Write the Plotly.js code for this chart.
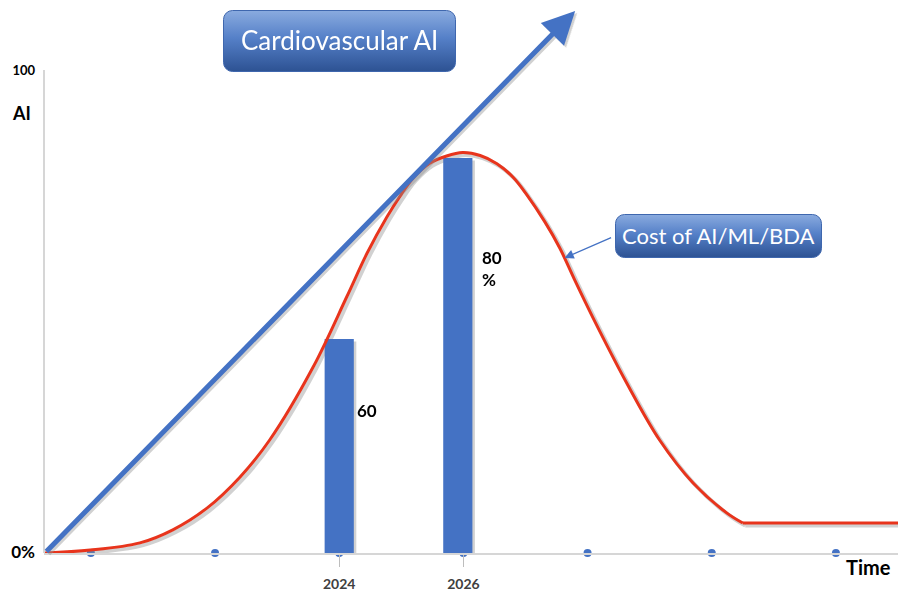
<!DOCTYPE html>
<html>
<head>
<meta charset="utf-8">
<script src="https://cdn.plot.ly/plotly-3.0.1.min.js"></script>
<style>
  html, body { margin: 0; padding: 0; background: #fff; }
  #chart { width: 906px; height: 598px; }
</style>
</head>
<body>
<div id="chart"></div>
<script>
// cost curve (year, value 0-100); flat after the last bend
var costYears = [2019.26, 2019.99, 2020.79, 2021.32, 2021.87, 2022.40, 2022.88, 2023.58, 2024.12,
  2024.45, 2024.77, 2024.98, 2025.19, 2025.46, 2025.73, 2025.99, 2026.27, 2026.54, 2026.80,
  2027.02, 2027.31, 2027.55, 2027.79, 2028.08, 2028.63, 2029.16, 2029.70, 2030.24, 2030.50, 2033.0];
var costValues = [0, 0.6, 2.1, 4.8, 9.3, 15.7, 23.4, 38.5, 53.0,
  62.1, 69.6, 73.9, 77.6, 80.7, 82.2, 82.9, 82.3, 80.6, 77.8,
  74.2, 68.6, 63.2, 56.6, 48.9, 35.2, 23.4, 14.5, 8.3, 6.2, 6.2];

var barYears = [2024, 2025.91];
var barValues = [44.3, 81.8];
var barLabels = ["60", "80<br>%"];

var dotYears = [2020, 2022, 2024, 2026, 2028, 2030, 2032];
var dotValues = [0, 0, 0, 0, 0, 0, 0];
var tickYears = [2024, 2026];
var tickLabels = ["2024", "2026"];

var trendFrom = [2019.26, 0];
var trendTo = [2027.80, 112.2];
var costPointer = [2027.63, 61.1];

var BLUE = "#4472C4";
var RED = "#E8341C";
var SHADOW = "rgba(140,140,140,0.4)";
var FONT = "Lato, 'Open Sans', sans-serif";
var XR = [2019.245, 2033.0];
var YR = [0, 112.42];

// plot area in pixels: x 44..898, y 10..553
function px(x) { return (x - 44) / 854; }
function py(y) { return (553 - y) / 543; }

function boxImage(w, h) {
  var svg = '<svg xmlns="http://www.w3.org/2000/svg" width="' + w + '" height="' + h + '" viewBox="0 0 ' + w + ' ' + h + '">' +
    '<defs><linearGradient id="g" x1="0" y1="0" x2="0" y2="1">' +
    '<stop offset="0" stop-color="#8AABDF"/><stop offset="0.45" stop-color="#5580C8"/>' +
    '<stop offset="1" stop-color="#2D5293"/></linearGradient></defs>' +
    '<rect x="0.5" y="0.5" width="' + (w - 1) + '" height="' + (h - 1) + '" rx="9" ry="9" fill="url(#g)" stroke="#3F67AE" stroke-width="1"/></svg>';
  return "data:image/svg+xml;charset=utf-8," + encodeURIComponent(svg);
}

var bend = costYears.length - 2;
var curveX = costYears.slice(0, bend + 1), curveY = costValues.slice(0, bend + 1);
var tailX = costYears.slice(bend), tailY = costValues.slice(bend);

function curve(xa, ya, color, w) {
  return [
    {
      type: "scatter", mode: "lines", x: curveX, y: curveY, xaxis: xa, yaxis: ya,
      line: { color: color, width: w, shape: "spline", smoothing: 1 },
      cliponaxis: false, hoverinfo: "skip"
    },
    {
      type: "scatter", mode: "lines", x: tailX, y: tailY, xaxis: xa, yaxis: ya,
      line: { color: color, width: w }, cliponaxis: false, hoverinfo: "skip"
    }
  ];
}

var traces = [
  {
    type: "scatter", mode: "markers", x: dotYears, y: dotValues,
    marker: { color: BLUE, size: 8 }, cliponaxis: false, hoverinfo: "skip"
  },
  // shadows sit on a copy of the axes moved a little right and down
  {
    type: "bar", x: barYears, y: barValues, width: 0.47, xaxis: "x2", yaxis: "y2",
    marker: { color: SHADOW }, hoverinfo: "skip"
  }
].concat(curve("x2", "y2", SHADOW, 4)).concat([
  {
    type: "bar", x: barYears, y: barValues, width: 0.47, xaxis: "x3", yaxis: "y3",
    marker: { color: BLUE }, hoverinfo: "skip"
  }
]).concat(curve("x3", "y3", RED, 3));

function trendArrow(color, dx, dy) {
  return {
    x: trendTo[0], y: trendTo[1], xref: "x", yref: "y",
    ax: trendFrom[0], ay: trendFrom[1], axref: "x", ayref: "y",
    xshift: dx, yshift: dy,
    text: "", showarrow: true, arrowhead: 2, arrowsize: 1.3, arrowwidth: 5,
    arrowcolor: color, standoff: 0, startstandoff: 0
  };
}

var annotations = [
  trendArrow(SHADOW, 2, -2),
  trendArrow(BLUE, 0, 0),
  {
    x: costPointer[0], y: costPointer[1], xref: "x", yref: "y",
    ax: 48, ay: -21, text: "", showarrow: true, arrowhead: 2,
    arrowsize: 1.4, arrowwidth: 1.3, arrowcolor: BLUE
  },
  {
    x: px(339.5), y: py(40), xref: "paper", yref: "paper", xanchor: "center", yanchor: "middle",
    text: "Cardiovascular AI", showarrow: false,
    font: { family: FONT, size: 26, color: "#ffffff" }
  },
  {
    x: px(718.5), y: py(235), xref: "paper", yref: "paper", xanchor: "center", yanchor: "middle",
    text: "Cost of AI/ML/BDA", showarrow: false,
    font: { family: FONT, size: 22, color: "#ffffff" }
  },
  {
    x: px(21), y: py(113), xref: "paper", yref: "paper", xanchor: "center", yanchor: "middle",
    text: "<b>AI</b>", showarrow: false,
    font: { family: FONT, size: 18, color: "#000000" }
  },
  {
    x: px(868), y: py(567), xref: "paper", yref: "paper", xanchor: "center", yanchor: "middle",
    text: "<b>Time</b>", showarrow: false,
    font: { family: FONT, size: 20, color: "#000000" }
  },
  {
    x: barYears[0], y: 29.6, xref: "x", yref: "y", xanchor: "left", yanchor: "middle", xshift: 16,
    text: "<b>" + barLabels[0] + "</b>", showarrow: false, align: "left",
    font: { family: FONT, size: 17, color: "#000000" }
  },
  {
    x: barYears[1], y: 58.8, xref: "x", yref: "y", xanchor: "left", yanchor: "middle", xshift: 22,
    text: "<b>" + barLabels[1] + "</b>", showarrow: false, align: "left",
    font: { family: FONT, size: 17, color: "#000000" }
  }
];

var layout = {
  width: 906,
  height: 598,
  margin: { l: 44, r: 8, t: 10, b: 45 },
  paper_bgcolor: "#ffffff",
  plot_bgcolor: "#ffffff",
  showlegend: false,
  xaxis: {
    range: XR,
    showgrid: false, zeroline: false,
    showline: true, linecolor: "#d6d6d6", linewidth: 1.5,
    tickvals: tickYears, ticktext: tickLabels,
    ticks: "outside", ticklen: 12, tickcolor: "#bdbdbd", tickwidth: 1,
    ticklabelstandoff: 6,
    tickfont: { family: FONT, size: 14, color: "#404040", weight: "bold" }
  },
  yaxis: {
    range: YR,
    showgrid: false, zeroline: false, showline: false,
    tickvals: [0, 100],
    ticktext: ["<span style='font-size:17px'>0%</span>", "100"],
    ticks: "", ticklabelstandoff: 8,
    tickfont: { family: FONT, size: 13, color: "#000000", weight: "bold" }
  },
  // shadow axes: same scale, moved ~2.5px right and ~2.5px down
  xaxis2: { overlaying: "x", anchor: "y2", visible: false, range: [XR[0] - 2.5 / 62.1, XR[1] - 2.5 / 62.1] },
  yaxis2: { overlaying: "y", anchor: "x2", visible: false, range: [YR[0] + 2.5 / 4.83, YR[1] + 2.5 / 4.83] },
  xaxis3: { overlaying: "x", anchor: "y3", visible: false, range: XR },
  yaxis3: { overlaying: "y", anchor: "x3", visible: false, range: YR },
  shapes: [
    {
      type: "line", xref: "paper", yref: "y",
      x0: 0, x1: 0, y0: 0, y1: 100,
      line: { color: "#d6d6d6", width: 2 }
    }
  ],
  images: [
    {
      source: boxImage(233, 62), xref: "paper", yref: "paper",
      x: px(223), y: py(10), sizex: 233 / 854, sizey: 62 / 543,
      xanchor: "left", yanchor: "top", sizing: "stretch", layer: "above"
    },
    {
      source: boxImage(207, 44), xref: "paper", yref: "paper",
      x: px(615), y: py(214), sizex: 207 / 854, sizey: 44 / 543,
      xanchor: "left", yanchor: "top", sizing: "stretch", layer: "above"
    }
  ],
  annotations: annotations
};

Plotly.newPlot("chart", traces, layout, { displayModeBar: false, staticPlot: true });
</script>
</body>
</html>
